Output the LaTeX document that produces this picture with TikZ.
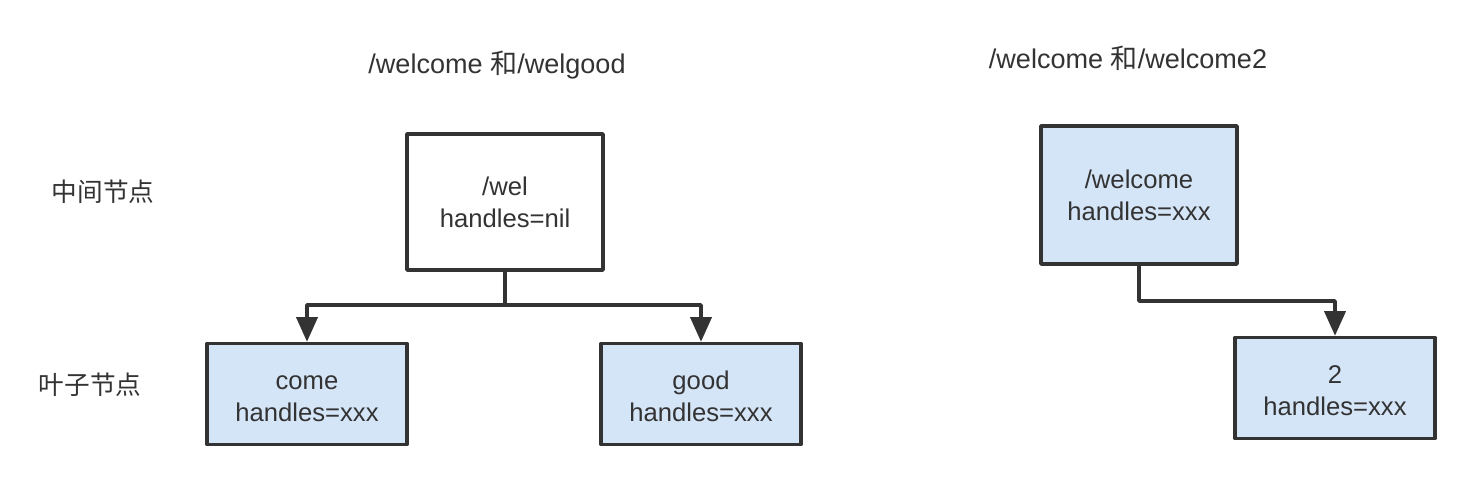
\documentclass[tikz,border=0pt]{standalone}
\usepackage{fontspec}
\setmainfont{Liberation Sans}
\newfontfamily\cjk{Noto Sans CJK SC}
\usetikzlibrary{arrows.meta}
\definecolor{leafblue}{HTML}{D5E5F8}
\definecolor{inkgray}{HTML}{333333}

\begin{document}
\begin{tikzpicture}[x=0.02cm, y=-0.02cm,
    every node/.style={font=\fontsize{14.6}{18.2}\selectfont, text=inkgray},
    titletext/.style={font=\fontsize{15.4}{18.2}\selectfont},
    midbox/.style={draw=inkgray, line width=2pt, line join=round, fill=white,
        align=center, inner sep=0pt, minimum width=3.92cm, minimum height=2.72cm},
    leafbox/.style={midbox, fill=leafblue, minimum width=4.0cm, minimum height=2.02cm},
    link/.style={draw=inkgray, line width=2pt, line join=round,
        -{Triangle[length=14pt, width=12pt]}}]
    \useasboundingbox (0,0) rectangle (1460,496);

    % =========================================================
    % SINISTRA: /welcome e /welgood
    % =========================================================
    \node[titletext] (title1) at (497, 65) {/welcome {\cjk 和}/welgood};
    \node (midlabel) at (103, 192) {\cjk 中间节点};
    \node (leaflabel) at (90, 385) {\cjk 叶子节点};

    % Nodo intermedio
    \node[midbox] (wel) at (505, 202) {/wel\\handles=nil};

    % Foglie
    \node[leafbox] (come) at (307, 394) {come\strut\\handles=xxx};
    \node[leafbox] (good) at (701, 394) {good\strut\\handles=xxx};

    % Diramazione
    \coordinate (split) at (505, 305);
    \draw[link] (wel.south) -- (split) -| (come.north);
    \draw[link] (split) -| (good.north);

    % =========================================================
    % DESTRA: /welcome e /welcome2
    % =========================================================
    \node[titletext] (title2) at (1128, 58) {/welcome {\cjk 和}/welcome2};

    \node[leafbox, minimum width=3.92cm, minimum height=2.76cm] (welcome) at (1139, 195) {/welcome\\handles=xxx};
    \node[leafbox] (two) at (1335, 388) {2\strut\\handles=xxx};

    \coordinate (turn) at (1139, 301);
    \draw[link] (welcome.south) -- (turn) -| (two.north);
\end{tikzpicture}
\end{document}
